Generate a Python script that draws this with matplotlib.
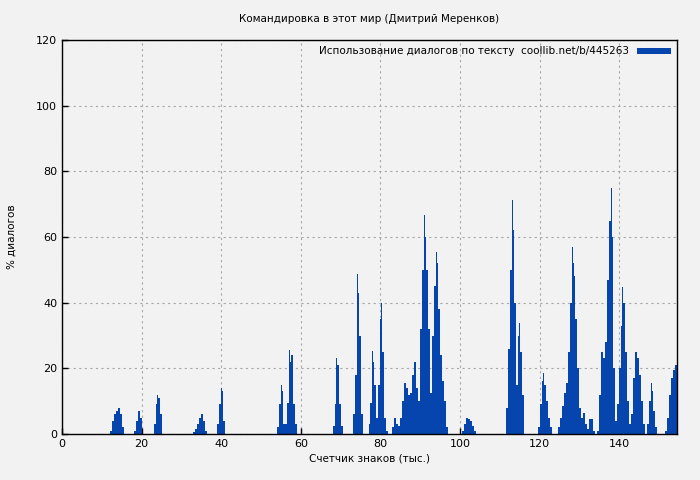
import matplotlib
matplotlib.use("Agg")
import matplotlib.pyplot as plt

STEP = 0.5

# start of each group of bars (thousands of chars) and bar heights (% dialogs)
group_starts = [12.0, 18.0, 23.0, 33.0, 39.0, 54.0, 68.0, 73.0, 77.0,
                83.0, 100.5, 111.5, 119.5, 124.5, 151.5]
group_values = [
    [1, 4, 6, 7, 8, 6, 2],
    [1, 4, 7, 5],
    [3, 9, 11, 6],
    [0.5, 1.5, 3, 5, 6, 4, 1],
    [3, 9, 13, 4],
    [2, 9, 13, 3, 3, 9.5, 22, 24, 9, 3],
    [2.5, 9, 21, 9, 2.5],
    [6, 18, 43, 30, 6],
    [3, 9.5, 22, 15, 5, 15, 35, 25, 5, 1],
    [2, 5, 3, 2.5, 5, 10, 15.5, 14, 12, 12.5, 18, 22, 14, 10,
     32, 50, 60, 50, 32, 12.5, 30, 45, 52, 38, 24, 16, 10, 2],
    [1, 3, 4.8, 4.5, 4, 2.5, 1],
    [8, 26, 50, 62, 40, 15, 30, 25, 12],
    [2, 9, 16, 15, 10, 5, 2],
    [2, 5, 8.5, 12.5, 15.5, 25, 40, 52, 48, 35, 20, 8, 5, 6.5, 3, 1.5,
     4.5, 4.5, 1, 0, 1, 12, 25, 23, 28, 47, 65, 60, 20, 4, 9, 20, 33,
     40, 25, 10, 3, 6, 17, 25, 23, 18, 10, 3, 0, 3, 10, 13, 7, 2],
    [1, 5, 12, 17, 19.5, 21],
]

# narrow single-column peaks
spike_x = [23.9, 40.0, 55.0, 57.1, 68.9, 74.0, 78.0, 80.15, 91.0, 94.0,
           113.0, 114.9, 120.9, 128.0, 137.9, 140.8, 147.9]
spike_y = [12, 14, 15, 25.6, 23, 48.7, 25.3, 40, 66.7, 55.4,
           71.3, 33.8, 18.6, 57, 74.9, 44.8, 15.5]

x = []
y = []
for start, vals in zip(group_starts, group_values):
    for i, v in enumerate(vals):
        x.append(start + i * STEP)
        y.append(v)

BG = "#f2f2f2"
BLUE = "#0645ad"

fig = plt.figure(figsize=(7, 4.8), dpi=100, facecolor=BG)
ax = fig.add_axes([62 / 700, 46 / 480, 615 / 700, 394 / 480], facecolor=BG)

ax.bar(x, y, width=STEP, align="edge", color=BLUE, linewidth=0,
       label="Использование диалогов по тексту  coollib.net/b/445263")
ax.bar(spike_x, spike_y, width=0.25, align="edge", color=BLUE, linewidth=0)

ax.set_xlim(0, 154.5)
ax.set_ylim(0, 120)
ax.set_xticks(range(0, 160, 20))
ax.set_yticks(range(0, 121, 20))
ax.tick_params(labelsize=8, direction="in", length=4, width=1)
ax.grid(True, color="#a8a8a8", linestyle=(0, (2, 3)), linewidth=0.8)
ax.set_axisbelow(True)
for s in ax.spines.values():
    s.set_linewidth(1)

ax.set_title("Командировка в этот мир (Дмитрий Меренков)", fontsize=7.5, pad=13)
ax.set_xlabel("Счетчик знаков (тыс.)", fontsize=7.5, labelpad=3)
ax.set_ylabel("% диалогов", fontsize=7.5, labelpad=14)

leg = ax.legend(loc="upper right", fontsize=7.5, frameon=False, markerfirst=False,
                handlelength=3.2, handleheight=0.5, borderaxespad=0.2,
                handletextpad=0.8)

fig.savefig("out.png", dpi=100, facecolor=BG)
